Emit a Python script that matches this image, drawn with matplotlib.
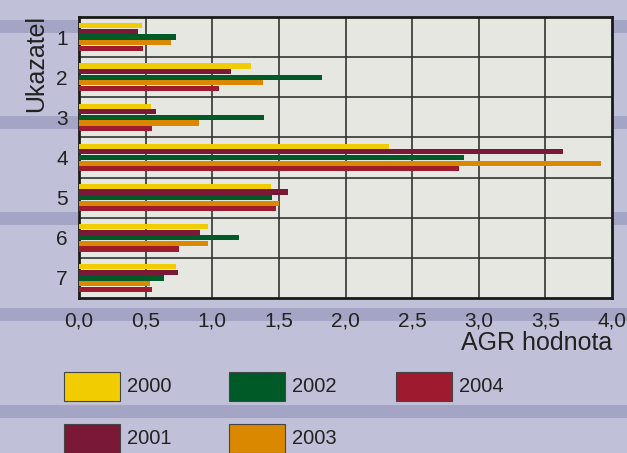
# AGR hodnota by indicator - grouped horizontal bars
import numpy as np
import matplotlib.pyplot as plt
from matplotlib.patches import Rectangle

plt.rcParams['font.family'] = ['Liberation Sans', 'DejaVu Sans']

categories = ["1", "2", "3", "4", "5", "6", "7"]
years = ["2000", "2001", "2002", "2003", "2004"]
v2000 = [0.47, 1.29, 0.54, 2.33, 1.44, 0.97, 0.73]
v2001 = [0.44, 1.14, 0.58, 3.63, 1.57, 0.91, 0.74]
v2002 = [0.73, 1.82, 1.39, 2.89, 1.45, 1.20, 0.64]
v2003 = [0.69, 1.38, 0.90, 3.92, 1.50, 0.97, 0.53]
v2004 = [0.48, 1.05, 0.55, 2.85, 1.48, 0.75, 0.55]
series = [v2000, v2001, v2002, v2003, v2004]
colors = ["#F0CC00", "#7A1838", "#005A28", "#D98800", "#9E1A2E"]

W, H = 627, 453
fig = plt.figure(figsize=(W / 100, H / 100), dpi=100)
fig.patch.set_facecolor("#C0C0D8")

# darker horizontal stripes in the background
for y0 in [20, 116, 212, 308, 405]:
    fig.add_artist(Rectangle((0, 1 - (y0 + 13) / H), 1, 13 / H,
                             transform=fig.transFigure, color="#A4A4C4",
                             zorder=-1, lw=0))

ax = fig.add_axes([79 / W, 1 - 298 / H, (612 - 79) / W, (298 - 17) / H])
ax.set_facecolor("#E7E7E1")

pos = np.arange(1, len(categories) + 1)
bar_h = 0.14
for k, (vals, col) in enumerate(zip(series, colors)):
    ax.barh(pos + (k - 2) * bar_h, vals, height=bar_h * 0.92,
            color=col, lw=0, zorder=3, label=years[k])

ax.set_xlim(0, 4.0)
ax.set_ylim(len(categories) + 0.5, 0.5)
xt = np.arange(0, 4.01, 0.5)
ax.set_xticks(xt)
ax.set_xticklabels([f"{v:.1f}".replace(".", ",") for v in xt], fontsize=15,
                   color="#222222")
ax.set_yticks(pos)
ax.set_yticklabels(categories, fontsize=15, color="#222222")
ax.tick_params(length=0)
ax.tick_params(axis="x", pad=10)
ax.tick_params(axis="y", pad=8)

for x in xt[1:-1]:
    ax.axvline(x, color="#333333", lw=1.2, zorder=1)
for y in pos[:-1] + 0.5:
    ax.axhline(y, color="#333333", lw=1.2, zorder=1)
for s in ax.spines.values():
    s.set_color("#1a1a1a")
    s.set_linewidth(2)

fig.text(36 / W, 1 - 63 / H, "Ukazatel", rotation=90, fontsize=18,
         ha="center", va="center", color="#222222")
fig.text(612 / W, 1 - 343 / H, "AGR hodnota", fontsize=18,
         ha="right", va="center", color="#222222")

# legend: 3 columns, filled column by column
col_x = [64, 229, 396]
row_top = [372, 424]
for k, (yr, col) in enumerate(zip(years, colors)):
    cx = col_x[k // 2]
    ry = row_top[k % 2]
    fig.add_artist(Rectangle((cx / W, 1 - (ry + 29) / H), 56 / W, 29 / H,
                             transform=fig.transFigure, facecolor=col,
                             edgecolor="#444444", lw=0.8))
    fig.text((cx + 63) / W, 1 - (ry + 14) / H, yr, fontsize=14.5,
             ha="left", va="center", color="#222222")

fig.savefig("out.png", dpi=100, facecolor=fig.get_facecolor())
